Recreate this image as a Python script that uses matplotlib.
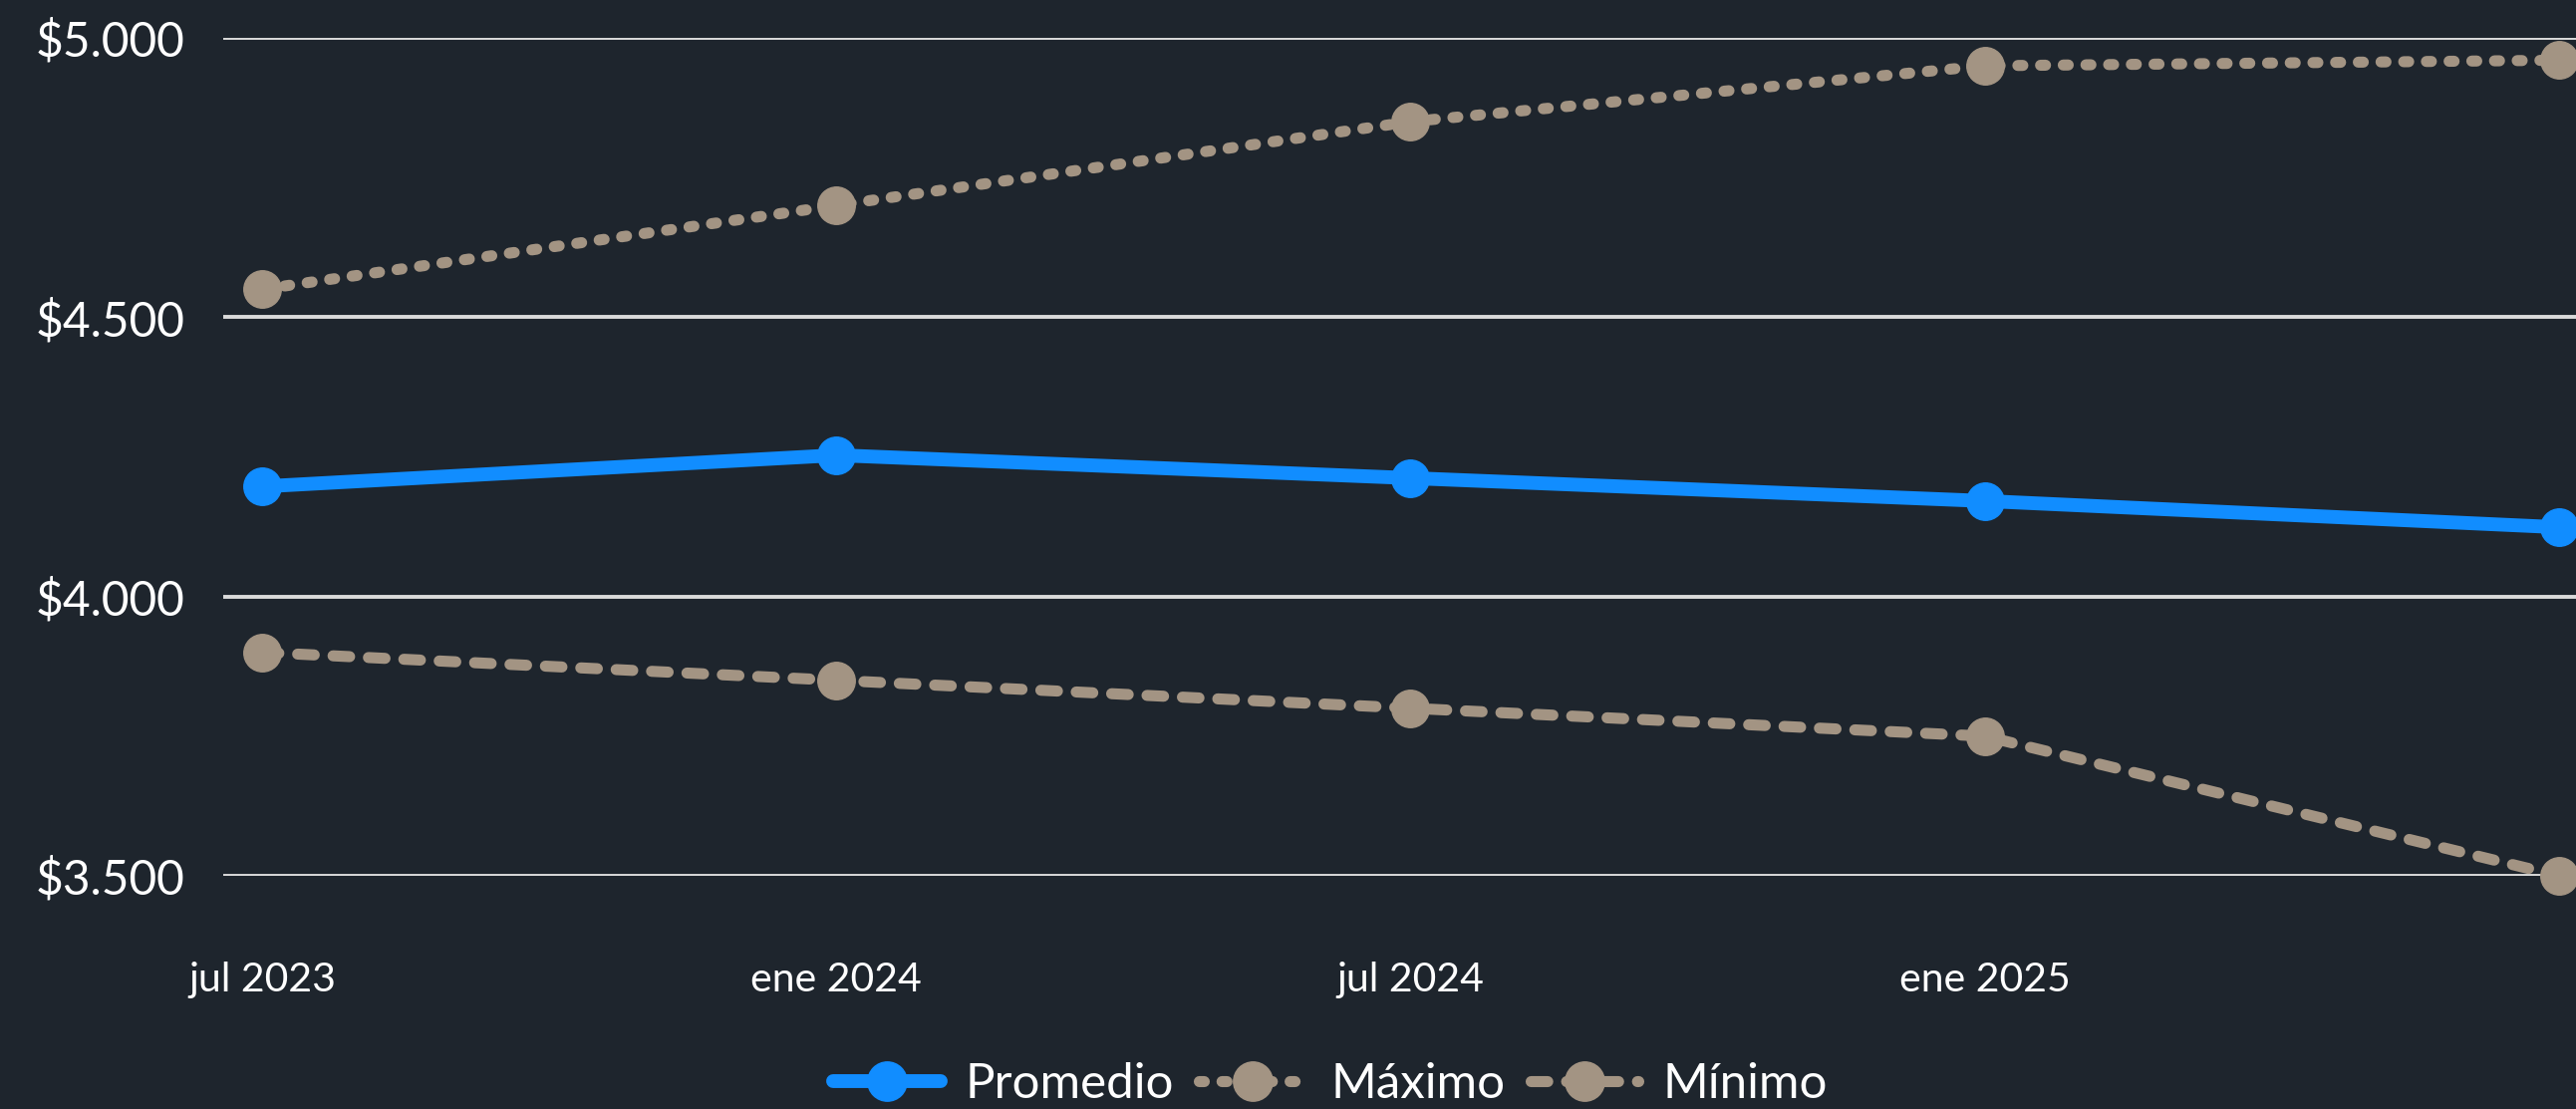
import numpy as np
import matplotlib
matplotlib.use("Agg")
import matplotlib.pyplot as plt
from matplotlib.ticker import FuncFormatter

# datos
periodos = ["jul 2023", "ene 2024", "jul 2024", "ene 2025", "jul 2025"]
etiquetas_x = ["jul 2023", "ene 2024", "jul 2024", "ene 2025"]
promedio = [4197, 4253, 4212, 4171, 4124]
maximo = [4550, 4700, 4850, 4950, 4960]
minimo = [3900, 3850, 3800, 3750, 3500]

bg = "#1E252D"
azul = "#118DFF"
beige = "#A39483"

plt.rcParams['font.family'] = ['Lato', 'DejaVu Sans']

fig = plt.figure(figsize=(25.85, 11.13), dpi=100, facecolor=bg)
ax = fig.add_axes([224 / 2585, 1 - 879 / 1113, 1 - 224 / 2585, (879 - 38) / 1113])
ax.set_facecolor(bg)

x = np.arange(len(periodos))

# líneas de cuadrícula
for v in [3500, 4000, 4500, 5000]:
    ax.axhline(v, color="#DADADA", lw=2.8, zorder=1)

ax.plot(x, promedio, color=azul, lw=10, marker="o", ms=27, label="Promedio",
        solid_capstyle="round", zorder=4, clip_on=False)
ax.plot(x, maximo, color=beige, lw=8, marker="o", ms=27, label="Máximo",
        dashes=(0.45, 1.6), dash_capstyle="round", zorder=3, clip_on=False)
ax.plot(x, minimo, color=beige, lw=8, marker="o", ms=27, label="Mínimo",
        dashes=(1.5, 1.7), dash_capstyle="round", zorder=3, clip_on=False)

ax.set_xlim(-0.068, 4.03)
ax.set_ylim(3500, 5000)
ax.set_yticks([3500, 4000, 4500, 5000])
ax.yaxis.set_major_formatter(FuncFormatter(lambda v, p: "$" + f"{int(v):,}".replace(",", ".")))
ax.set_xticks(range(len(etiquetas_x)))
ax.set_xticklabels(etiquetas_x)

ax.tick_params(axis="y", length=0, pad=28, labelsize=34.5, labelcolor="white")
ax.tick_params(axis="x", length=0, pad=62, labelsize=29.5, labelcolor="white")
for s in ax.spines.values():
    s.set_visible(False)

leg = fig.legend(loc="center", bbox_to_anchor=(1335 / 2585, 1 - 1088 / 1113), ncol=3,
                 frameon=False, fontsize=35.5, handlelength=2.2, handletextpad=0.5,
                 columnspacing=0.5, markerscale=1.05, labelcolor="white")

fig.savefig("out.png", dpi=100, facecolor=bg)
